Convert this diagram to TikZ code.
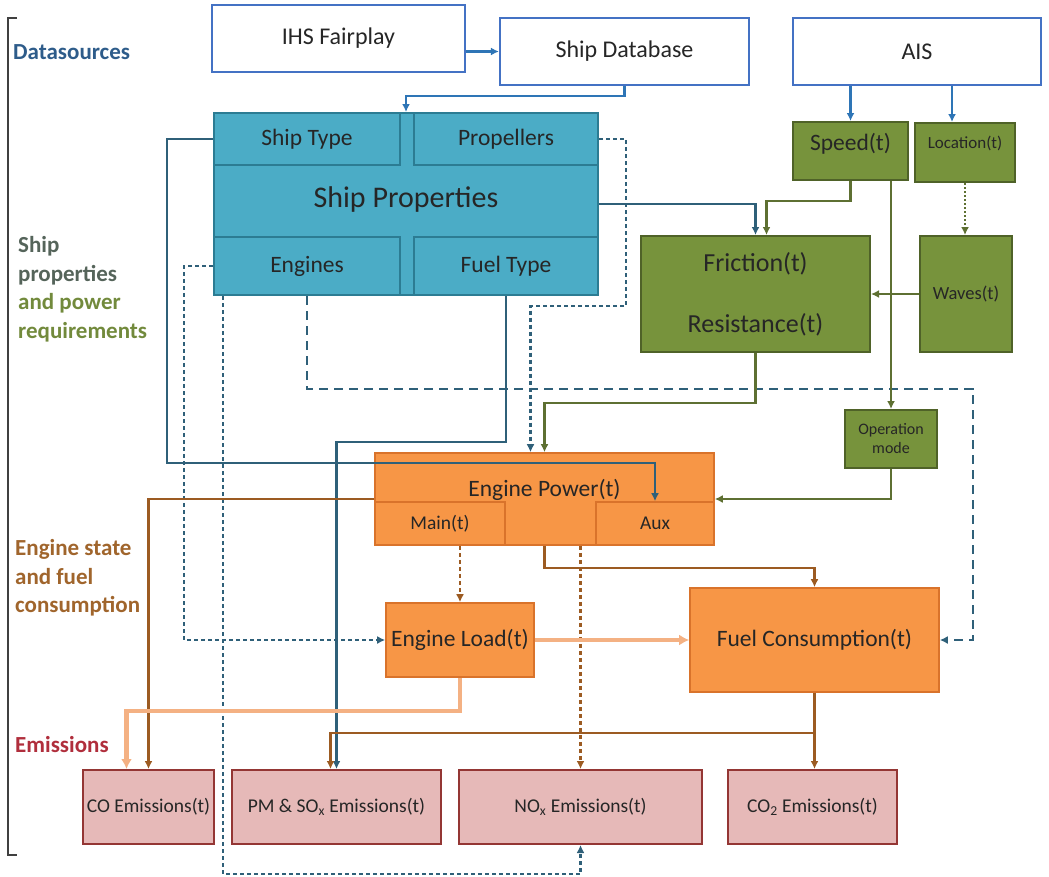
\documentclass[tikz,border=0pt]{standalone}
\usepackage{fontspec}
\setmainfont{Carlito}
\usepackage{xcolor}
\usepackage{tikz}
\usetikzlibrary{arrows.meta,calc}
\definecolor{SrcBlue}{HTML}{4472C4}
\definecolor{LinkBlue}{HTML}{2E75B6}
\definecolor{PropFill}{HTML}{4BACC6}
\definecolor{PropLine}{HTML}{2C7C93}
\definecolor{PropLink}{HTML}{2F6079}
\definecolor{GreenFill}{HTML}{77933C}
\definecolor{GreenLine}{HTML}{4F6228}
\definecolor{GreenLink}{HTML}{5E7032}
\definecolor{OrangeFill}{HTML}{F79646}
\definecolor{OrangeLine}{HTML}{D9732B}
\definecolor{BrownLink}{HTML}{9C5B22}
\definecolor{LightLink}{HTML}{F4B183}
\definecolor{EmisFill}{HTML}{E6B9B8}
\definecolor{EmisLine}{HTML}{943634}
\definecolor{TextDark}{HTML}{262626}
\definecolor{DataText}{HTML}{2E5C8A}
\definecolor{ShipLblA}{HTML}{55645A}
\definecolor{ShipLblB}{HTML}{728A3C}
\definecolor{EngLbl}{HTML}{A0652C}
\definecolor{EmisLbl}{HTML}{B02E3C}
\definecolor{BracketGray}{HTML}{404040}

\begin{document}
\begin{tikzpicture}[
	x=1pt, y=-1pt,
	srcbox/.style={draw=SrcBlue, line width=2.2pt, fill=white, inner sep=0pt, minimum width=249pt, minimum height=67pt, text=TextDark, font=\fontsize{24}{28}\selectfont},
	propbox/.style={draw=PropLine, line width=2pt, fill=PropFill, inner sep=0pt, text=TextDark, font=\fontsize{23.5}{28}\selectfont},
	greenbox/.style={draw=GreenLine, line width=2pt, fill=GreenFill, inner sep=0pt, align=center, text=TextDark},
	orangebox/.style={draw=OrangeLine, line width=1.6pt, fill=OrangeFill, inner sep=0pt, align=center, text=TextDark},
	emisbox/.style={draw=EmisLine, line width=2pt, fill=EmisFill, inner sep=0pt, minimum height=74pt, text=TextDark, font=\fontsize{19.5}{23}\selectfont},
	sidelabel/.style={anchor=west, align=left, inner sep=0pt, font=\bfseries\fontsize{23}{28.5}\selectfont},
	conn/.style={-{Latex[length=8pt,width=8pt]}, line width=2.2pt},
	bluelink/.style={conn, draw=LinkBlue},
	teallink/.style={conn, draw=PropLink},
	greenlink/.style={conn, draw=GreenLink},
	brownlink/.style={conn, draw=BrownLink},
	lightlink/.style={-{Latex[length=10pt,width=11pt]}, line width=4.2pt, draw=LightLink},
	shortdash/.style={dash pattern=on 4pt off 3pt},
	longdash/.style={dash pattern=on 9pt off 6pt},
	dotline/.style={dash pattern=on 2pt off 2pt}
]
\useasboundingbox (0,0) rectangle (1049,876);

% data sources
\node[srcbox, minimum width=253pt] (ihs) at (338.5,38.5) {IHS Fairplay};
\node[srcbox] (shipdb) at (624.5,51.5) {Ship Database};
\node[srcbox, minimum width=248pt] (ais) at (917,51.5) {AIS};

% ship properties
\node[propbox, minimum width=384pt, minimum height=182pt, font=\fontsize{30}{34}\selectfont, text height=21pt, text depth=15pt] (props) at (406,204) {Ship Properties};
\node[propbox, minimum width=186pt, minimum height=52pt] (shiptype) at (307,139) {Ship Type};
\node[propbox, minimum width=184pt, minimum height=52pt] (propellers) at (506,139) {Propellers};
\node[propbox, minimum width=186pt, minimum height=58pt] (engines) at (307,266) {Engines};
\node[propbox, minimum width=184pt, minimum height=58pt] (fueltype) at (506,266) {Fuel Type};

% power requirements
\node[greenbox, minimum width=115pt, minimum height=58pt, font=\fontsize{23.5}{27}\selectfont, text height=16pt, text depth=17pt] (speed) at (850.5,151) {Speed(t)};
\node[greenbox, minimum width=100pt, minimum height=59pt, font=\fontsize{17}{20}\selectfont, text height=12pt, text depth=20pt] (location) at (965,152.5) {Location(t)};
\node[greenbox, minimum width=229pt, minimum height=116pt, font=\fontsize{26}{31}\selectfont] (friction) at (755.5,294) {Friction(t)\\[30pt]Resistance(t)};
\node[greenbox, minimum width=92pt, minimum height=116pt, font=\fontsize{18.5}{22}\selectfont] (waves) at (966,294) {Waves(t)};
\node[greenbox, minimum width=92pt, minimum height=58pt, font=\fontsize{16}{19}\selectfont] (opmode) at (891,439) {Operation\\mode};

% engine state
\node[orangebox, minimum width=339pt, minimum height=92pt, font=\fontsize{23.5}{27}\selectfont, text height=16pt, text depth=22pt] (power) at (544.5,499) {Engine Power(t)};
\node[orangebox, minimum width=130pt, minimum height=43pt, font=\fontsize{19.5}{23}\selectfont] (main) at (440,523.5) {Main(t)};
\node[orangebox, minimum width=118pt, minimum height=43pt, font=\fontsize{19.5}{23}\selectfont] (aux) at (655,523.5) {Aux};
\node[orangebox, minimum width=148pt, minimum height=74pt, font=\fontsize{23.5}{27}\selectfont] (load) at (460,640) {Engine Load(t)};
\node[orangebox, minimum width=249pt, minimum height=104pt, font=\fontsize{23.5}{27}\selectfont] (fuel) at (814.5,640) {Fuel Consumption(t)};

% emissions
\node[emisbox, minimum width=131pt] (co) at (148.5,807) {CO Emissions(t)};
\node[emisbox, minimum width=209pt] (pm) at (336.5,807) {PM \& SO\textsubscript{x} Emissions(t)};
\node[emisbox, minimum width=243pt] (nox) at (580.5,807) {NO\textsubscript{x} Emissions(t)};
\node[emisbox, minimum width=169pt] (co2) at (812.5,807) {CO\textsubscript{2} Emissions(t)};

% side labels
\draw[line width=2pt, draw=BracketGray] (17,18) -- (8,18) -- (8,855) -- (17,855);
\node[sidelabel, text=DataText] (lbldata) at (13,52) {Datasources};
\node[sidelabel] (lblship) at (18,289) {\textcolor{ShipLblA}{Ship}\\\textcolor{ShipLblA}{properties}\\\textcolor{ShipLblB}{and power}\\\textcolor{ShipLblB}{requirements}};
\node[sidelabel, text=EngLbl] (lbleng) at (15,578) {Engine state\\and fuel\\consumption};
\node[sidelabel, text=EmisLbl] (lblemis) at (15,745) {Emissions};

% sources
\draw[bluelink] (ihs.east |- shipdb.west) -- (shipdb.west);
\draw[bluelink] (shipdb.south) -- ++(0,10) -| (props.north);
\draw[bluelink] (ais.south -| speed.north) -- (speed.north);
\draw[bluelink] ($(ais.south -| location.north)+(-13,0)$) -- ($(location.north)+(-13,0)$);

% ship properties links
\draw[teallink] (props.east) -| (friction.north);
\draw[teallink] (shiptype.west) -- ++(-46,0) |- ($(aux.north)+(0,-38)$) -- (aux.north);
\draw[teallink] (fueltype.south) -- ++(0,146) -| (pm.north);
\draw[teallink, shortdash] (propellers.east) -- ++(27,0) |- ($(power.north)+(-14,-146)$) -- ($(power.north)+(-14,0)$);
\draw[teallink, longdash] (engines.south) -- ++(0,93) -| ($(fuel.east)+(33,0)$) -- (fuel.east);
\draw[teallink, shortdash] (engines.west) -- ++(-29,0) |- (load.west);
\draw[teallink, shortdash] ($(engines.south west)+(10,0)$) |- ($(nox.south)+(0,29)$) -- (nox.south);

% requirements
\draw[greenlink] (speed.south) -- ++(0,20) -| ($(friction.north)+(11,0)$);
\draw[greenlink] (speed.south -| opmode.north) -- (opmode.north);
\draw[greenlink, dotline] (location.south) -- (location.south |- waves.north);
\draw[greenlink] (waves.west) -- (friction.east);
\draw[greenlink] (friction.south) -- ++(0,50) -| (power.north);
\draw[greenlink] (opmode.south) |- (power.east);

% engine state and emissions
\draw[brownlink] (power.west) -| (co.north);
\draw[brownlink] (power.south) -- ++(0,22) -| (fuel.north);
\draw[brownlink, shortdash] (main.south -| load.north) -- (load.north);
\draw[brownlink, shortdash] (power.south -| nox.north) -- (nox.north);
\draw[brownlink] (fuel.south) -- (fuel.south |- co2.north);
\draw[brownlink] (fuel.south) -- ++(0,40) -| ($(pm.north)+(-6,0)$);
\draw[lightlink] (load.east) -- (fuel.west);
\draw[lightlink] (load.south) -- ++(0,33) -| ($(co.north)+(-22,0)$);
\end{tikzpicture}
\end{document}
